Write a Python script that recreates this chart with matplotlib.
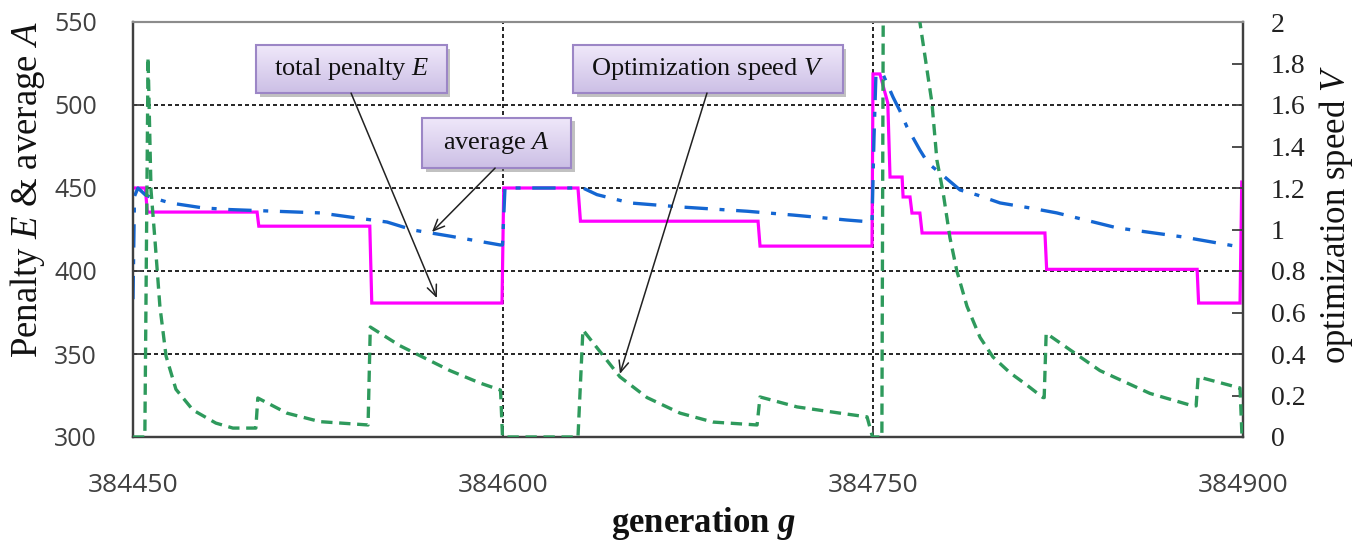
import matplotlib
matplotlib.use('Agg')
import numpy as np
import matplotlib.pyplot as plt
from matplotlib.patches import Rectangle
import matplotlib.patheffects as pe

plt.rcParams['mathtext.fontset'] = 'custom'
plt.rcParams['mathtext.rm'] = 'Liberation Serif'
plt.rcParams['mathtext.it'] = 'Liberation Serif:italic'
plt.rcParams['mathtext.bf'] = 'Liberation Serif:bold'
plt.rcParams['mathtext.bfit'] = 'Liberation Serif:italic:bold'

# ---------------- data ----------------
E_gen = [384450.0, 384455.0, 384455.8, 384500.3, 384501.0, 384546.0, 384546.8, 384599.6,
         384600.3, 384630.4, 384631.4, 384703.4, 384704.2, 384749.6, 384750.0, 384752.8,
         384756.0, 384756.9, 384761.8, 384762.2, 384765.0, 384765.8, 384769.0, 384769.9,
         384819.7, 384820.4, 384881.4, 384882.0, 384898.8, 384899.5]
E_val = [450, 450, 435.5, 435.5, 427, 427, 380.7, 380.7,
         450, 450, 430, 430, 415, 415, 518.7, 518.7,
         501.2, 456.6, 456.6, 444.6, 444.6, 434.9, 434.9, 422.9,
         422.9, 401, 401, 380.7, 380.7, 453.6]

A_gen = [384450.0, 384450.6, 384452.0, 384454.9, 384456.9, 384465.0, 384478.4, 384489.3,
         384525.8, 384538.0, 384553.0, 384563.5, 384578.5, 384598.8, 384599.8, 384600.8,
         384632.4, 384638.1, 384651.5, 384671.8, 384698.9, 384717.6, 384739.5, 384749.6,
         384750.4, 384751.2, 384754.0, 384758.1, 384760.9, 384763.8, 384769.0, 384772.3,
         384777.2, 384785.3, 384792.2, 384801.5, 384813.6, 384824.5, 384848.9, 384875.7,
         384898.8]
A_val = [383, 445, 450, 446, 444.6, 441, 438, 437,
         435, 432.5, 429.5, 424.7, 421, 415.7, 415.7, 450,
         450, 446, 441, 438.6, 436, 433.7, 430.7, 429.5,
         480, 518.7, 518.7, 504.8, 496.5, 486.7, 472.9, 465,
         459, 448.8, 445.8, 441, 438, 435, 426, 420.5,
         414.5]

V_gen = [384450.0, 384454.8, 384456.1, 384457.3, 384458.9, 384460.9, 384463.4, 384467.4,
         384474.3, 384483.6, 384490.5, 384499.8, 384500.6, 384512.4, 384525.8, 384545.3,
         384546.2, 384558.2, 384578.5, 384590.7, 384599.0, 384599.8, 384630.4, 384632.4,
         384647.4, 384658.4, 384671.8, 384685.1, 384703.0, 384704.2, 384719.2, 384736.6,
         384747.6, 384749.8, 384753.6, 384754.4, 384766.5, 384769.0, 384773.9, 384775.9,
         384778.4, 384781.2, 384784.0, 384788.1, 384793.4, 384798.6, 384805.5, 384812.4,
         384818.9, 384819.4, 384820.2, 384842.0, 384862.3, 384878.5, 384881.0, 384881.8,
         384898.8, 384899.6]
V_val = [0, 0, 1.83, 1.19, 0.95, 0.63, 0.39, 0.23,
         0.13, 0.067, 0.043, 0.043, 0.188, 0.115, 0.074, 0.058,
         0.53, 0.44, 0.32, 0.26, 0.226, 0, 0, 0.516,
         0.29, 0.19, 0.115, 0.072, 0.058, 0.193, 0.145, 0.115,
         0.097, 0, 0, 3.0, 3.0, 2.0, 1.61, 1.335,
         1.18, 0.96, 0.80, 0.63, 0.48, 0.386, 0.31, 0.25,
         0.19, 0.19, 0.50, 0.32, 0.21, 0.154, 0.15, 0.29,
         0.236, 0]

x_ticks = [384450, 384600, 384750, 384900]
left_ticks = [300, 350, 400, 450, 500, 550]
right_ticks = [0, 0.2, 0.4, 0.6, 0.8, 1.0, 1.2, 1.4, 1.6, 1.8, 2.0]
right_tick_labels = ['0', '0.2', '0.4', '0.6', '0.8', '1', '1.2', '1.4', '1.6', '1.8', '2']

# annotation boxes: (text, box g0, g1, E0, E1, arrow start (g,E), arrow end (g,E))
annotations = [
    ('total penalty $E$', 384499.9, 384577.3, 507.2, 536.1, (384538.4, 507.2), (384573.2, 383.7)),
    ('average $A$', 384567.2, 384627.6, 462.0, 492.2, (384596.8, 462.0), (384571.2, 423.5)),
    ('Optimization speed $V$', 384628.4, 384737.8, 507.2, 536.1, (384682.7, 507.2), (384647.4, 338.0)),
]

# ---------------- figure ----------------
W, H = 1356, 542
fig = plt.figure(figsize=(W / 100, H / 100), dpi=100)
ax = fig.add_axes([133 / W, 1 - 437 / H, (1243 - 133) / W, (437 - 22) / H])
ax2 = ax.twinx()

ax.set_xlim(384450, 384900)
ax.set_ylim(300, 550)
ax2.set_ylim(0, 2)

grid_kw = dict(color='black', lw=1.2, linestyle=(0, (2.4, 1.8)), zorder=1)
for yv in left_ticks[1:-1]:
    ax.axhline(yv, **grid_kw)
for xv in x_ticks[1:-1]:
    ax.axvline(xv, **grid_kw)

ax.plot(E_gen, E_val, color='#FF00FF', lw=2.3, zorder=3, solid_joinstyle='miter')
ax.plot(A_gen, A_val, color='#1466D2', lw=2.4, linestyle=(0, (7, 3.5, 1.5, 3.5)), zorder=4)
ax2.plot(V_gen, V_val, color='#2E9A5C', lw=2.4, linestyle=(0, (3.4, 2.0)), zorder=3)

# ticks
ax.set_xticks(x_ticks)
ax.set_xticklabels([str(v) for v in x_ticks])
ax.set_yticks(left_ticks)
ax.set_yticklabels([str(v) for v in left_ticks])
ax2.set_yticks(right_ticks)
ax2.set_yticklabels(right_tick_labels)

for lab in ax.get_xticklabels() + ax.get_yticklabels():
    lab.set_fontfamily('Open Sans')
    lab.set_color('#404040')
for lab in ax.get_yticklabels():
    lab.set_fontsize(18)
for lab in ax.get_xticklabels():
    lab.set_fontsize(19)
for lab in ax2.get_yticklabels():
    lab.set_fontfamily('Liberation Serif')
    lab.set_fontsize(20)
    lab.set_color('#222222')

ax.tick_params(axis='y', direction='in', length=7, width=1.3, color='#404040', pad=26)
ax.tick_params(axis='x', direction='in', length=7, width=1.3, color='#404040', pad=26)
ax2.tick_params(axis='y', direction='in', length=8, width=1.3, color='#404040', pad=20)

for a in (ax, ax2):
    for side in ('left', 'right', 'bottom'):
        a.spines[side].set_color('#404040')
        a.spines[side].set_linewidth(1.6)
    a.spines['top'].set_color('#8c8c8c')
    a.spines['top'].set_linewidth(1.5)

# axis labels
fig.text(28 / W, 1 - 190 / H, 'Penalty $E$ & average $A$', rotation=90, ha='center', va='center',
         fontsize=26.5, family='Liberation Serif', color='#111111')
fig.text(1336 / W, 1 - 215 / H, 'optimization speed $V$', rotation=90, ha='center', va='center',
         fontsize=25, family='Liberation Serif', color='#111111')
fig.text(704 / W, 1 - 523 / H, r'generation $\mathbfit{g}$', ha='center', va='center',
         fontsize=25, family='Liberation Serif', weight='bold', color='#111111')

# annotation boxes with gradient and shadow
grad = np.linspace(0, 1, 64).reshape(-1, 1)
top_c = np.array([0.94, 0.91, 0.98])
bot_c = np.array([0.80, 0.75, 0.90])
img = top_c[None, None, :] * (1 - grad[:, :, None]) + bot_c[None, None, :] * grad[:, :, None]
for text, g0, g1, e0, e1, start, end in annotations:
    shadow = Rectangle((g0, e0), g1 - g0, e1 - e0, transform=ax.transData,
                       facecolor='#000000', alpha=0.0, edgecolor='none', zorder=8,
                       path_effects=[pe.SimplePatchShadow(offset=(2.5, -2.5), shadow_rgbFace='#777777', alpha=0.45)])
    ax.add_patch(shadow)
    ax.imshow(img, extent=(g0, g1, e0, e1), aspect='auto', zorder=9, interpolation='bilinear')
    ax.add_patch(Rectangle((g0, e0), g1 - g0, e1 - e0, fill=False, edgecolor='#9C86C6', lw=1.5, zorder=10))
    ax.text((g0 + g1) / 2, (e0 + e1) / 2, text, ha='center', va='center', fontsize=19,
            family='Liberation Serif', color='#111111', zorder=11)
    ax2.annotate('', xy=end, xycoords=ax.transData, xytext=start, textcoords=ax.transData,
                 arrowprops=dict(arrowstyle='->,head_length=0.8,head_width=0.35', color='#222222', lw=1.1,
                                 shrinkA=0, shrinkB=0), zorder=12)

ax.set_xlim(384450, 384900)
ax.set_ylim(300, 550)
ax2.set_ylim(0, 2)

fig.savefig('out.png', dpi=100)
